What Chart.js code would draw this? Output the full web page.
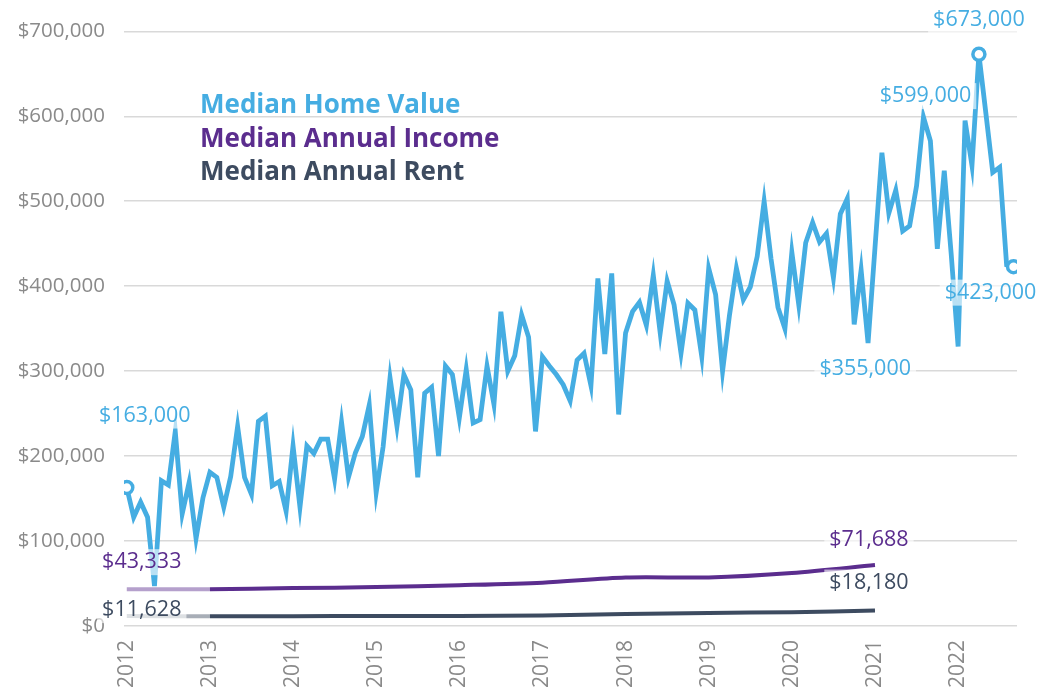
<!DOCTYPE html>
<html>
<head>
<meta charset="utf-8">
<title>Median Home Value vs Income and Rent</title>
<script src="https://cdn.jsdelivr.net/npm/chart.js@4.4.1/dist/chart.umd.min.js"></script>
<style>
    html, body {
        margin: 0;
        padding: 0;
        background: #ffffff;
    }
    .chart-box {
        width: 1042px;
        height: 690px;
    }
</style>
</head>
<body>
<div class="chart-box">
    <canvas id="homeChart" width="1042" height="690"></canvas>
</div>
<script>
// year ticks on the bottom axis (one tick every 12 months)
const years = ["2012", "2013", "2014", "2015", "2016", "2017", "2018", "2019", "2020", "2021", "2022"];

// monthly median home value, Jan 2012 onwards
const homeValue = [
    163000, 128000, 146000, 128000, 47000, 171000, 166000, 229000, 132000, 169000, 103000, 151000,
    181000, 175000, 140000, 176000, 235000, 175000, 155000, 241000, 247000, 165000, 170000, 135000,
    212000, 140000, 212000, 203000, 220000, 220000, 173000, 240000, 175000, 204000, 223000, 260000,
    157000, 211000, 292000, 235000, 296000, 278000, 175000, 274000, 281000, 200000, 306000, 296000,
    245000, 302000, 239000, 243000, 306000, 261000, 370000, 300000, 318000, 366000, 340000, 229000,
    317000, 306000, 296000, 284000, 265000, 313000, 321000, 283000, 409000, 320000, 415000, 249000,
    345000, 370000, 381000, 354000, 413000, 345000, 406000, 378000, 321000, 380000, 372000, 317000,
    421000, 390000, 300000, 366000, 421000, 384000, 399000, 435000, 500000, 432000, 375000, 350000,
    440000, 378000, 451000, 475000, 452000, 462000, 410000, 485000, 503000, 355000, 419000, 333000,
    445000, 557000, 486000, 513000, 465000, 471000, 518000, 599000, 571000, 444000, 536000, 438000,
    329000, 595000, 542000, 673000, 604000, 534000, 540000, 425000, 423000
];

// yearly medians, 2012 - 2021
const annualIncome = [43333, 43400, 44600, 45800, 48000, 51000, 57000, 57200, 62500, 71688];
const annualRent = [11628, 11500, 11600, 11700, 11900, 12500, 14200, 15400, 16200, 18180];

const seriesNames = ["Median Home Value", "Median Annual Income", "Median Annual Rent"];
const seriesColors = ["#45ade2", "#5b2d8e", "#3d4b60"];
const fadedColors = ["rgba(69,173,226,0.5)", "rgba(91,45,142,0.45)", "rgba(61,75,96,0.45)"];

// home value points that get a hollow marker
const markedPoints = [0, 123, 128];

const money = v => "$" + v.toLocaleString("en-US");

Chart.defaults.font.family = "'Open Sans', sans-serif";

// value callouts drawn on top of the lines, with a see-through white box
const calloutPlugin = {
    id: "callouts",
    afterDatasetsDraw(chart, args, opts) {
        const ctx = chart.ctx;
        ctx.save();
        ctx.font = opts.font;
        ctx.textAlign = "center";
        ctx.textBaseline = "middle";
        opts.items.forEach(item => {
            const pt = chart.getDatasetMeta(item.set).data[item.index];
            const value = chart.data.datasets[item.set].data[item.index].y;
            const text = money(value);
            const x = pt.x + item.dx;
            const y = pt.y + item.dy;
            const w = ctx.measureText(text).width;
            ctx.fillStyle = "rgba(255,255,255,0.62)";
            ctx.fillRect(x - w / 2 - 5, y - 13, w + 10, 26);
            ctx.fillStyle = seriesColors[item.set];
            ctx.fillText(text, x, y);
        });
        ctx.restore();
    }
};

// text-only legend sitting inside the plot
const legendPlugin = {
    id: "textLegend",
    afterDraw(chart, args, opts) {
        const ctx = chart.ctx;
        ctx.save();
        ctx.font = opts.font;
        ctx.textBaseline = "middle";
        ctx.textAlign = "left";
        seriesNames.forEach((name, i) => {
            ctx.fillStyle = seriesColors[i];
            ctx.fillText(name, opts.x, opts.y + i * opts.gap);
        });
        ctx.restore();
    }
};

document.addEventListener("DOMContentLoaded", () => {

    const firstFaded = i => ({
        borderColor: ctx => ctx.p0DataIndex === 0 ? fadedColors[i] : undefined
    });

    new Chart(document.getElementById("homeChart"), {
        type: "line",
        data: {
            datasets: [{
                label: seriesNames[0],
                data: homeValue.map((v, i) => ({ x: i, y: v })),
                borderColor: seriesColors[0],
                borderWidth: 4.8,
                tension: 0,
                pointRadius: ctx => markedPoints.includes(ctx.dataIndex) ? 6 : 0,
                pointBackgroundColor: "#ffffff",
                pointBorderColor: seriesColors[0],
                pointBorderWidth: 3.5
            }, {
                label: seriesNames[1],
                data: annualIncome.map((v, i) => ({ x: i * 12, y: v })),
                borderColor: seriesColors[1],
                borderWidth: 4,
                tension: 0.3,
                pointRadius: 0,
                segment: firstFaded(1)
            }, {
                label: seriesNames[2],
                data: annualRent.map((v, i) => ({ x: i * 12, y: v })),
                borderColor: seriesColors[2],
                borderWidth: 4,
                tension: 0.3,
                pointRadius: 0,
                segment: firstFaded(2)
            }]
        },
        options: {
            responsive: false,
            animation: false,
            layout: {
                padding: { top: 27, right: 25, bottom: 0, left: 0 }
            },
            scales: {
                x: {
                    type: "linear",
                    min: -0.4,
                    max: 128.5,
                    afterBuildTicks: scale => {
                        scale.ticks = years.map((y, i) => ({ value: i * 12 }));
                    },
                    afterFit: scale => { scale.height = 64; },
                    grid: { display: false },
                    border: { display: false },
                    ticks: {
                        color: "#8a8a8a",
                        font: { size: 21 },
                        padding: 6,
                        minRotation: 90,
                        maxRotation: 90,
                        autoSkip: false,
                        callback: value => years[Math.round(value / 12)]
                    }
                },
                y: {
                    min: 0,
                    max: 700000,
                    afterFit: scale => { scale.width = 124; },
                    grid: {
                        color: "#d9d9d9",
                        lineWidth: 1.5,
                        drawTicks: false
                    },
                    border: { display: false },
                    ticks: {
                        stepSize: 100000,
                        color: "#8a8a8a",
                        font: { size: 20.5 },
                        padding: 19,
                        callback: value => money(value)
                    }
                }
            },
            plugins: {
                legend: { display: false },
                tooltip: { enabled: false },
                callouts: {
                    font: "21.5px 'Open Sans', sans-serif",
                    items: [
                        { set: 0, index: 0, dx: 18, dy: -72 },
                        { set: 0, index: 115, dx: 2, dy: -21 },
                        { set: 0, index: 123, dx: 0, dy: -34 },
                        { set: 0, index: 128, dx: -23, dy: 26 },
                        { set: 0, index: 105, dx: 11, dy: 44 },
                        { set: 1, index: 0, dx: 15, dy: -27 },
                        { set: 1, index: 9, dx: -6, dy: -25 },
                        { set: 2, index: 0, dx: 15, dy: -6 },
                        { set: 2, index: 9, dx: -6, dy: -28 }
                    ]
                },
                textLegend: {
                    font: "bold 26px 'Open Sans', sans-serif",
                    x: 200,
                    y: 106,
                    gap: 33.5
                }
            }
        },
        plugins: [calloutPlugin, legendPlugin]
    });

});
</script>
</body>
</html>
